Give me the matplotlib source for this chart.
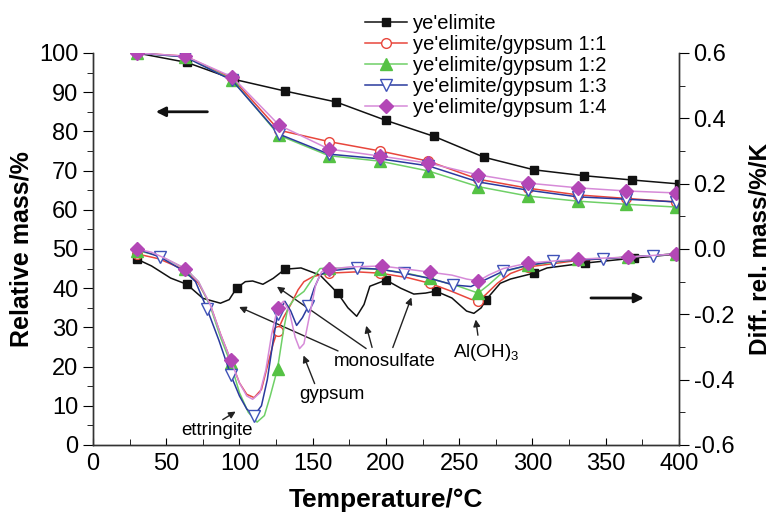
import numpy as np
import matplotlib
matplotlib.use("Agg")
import matplotlib.pyplot as plt
from matplotlib.ticker import MultipleLocator, FormatStrFormatter

plt.rcParams['font.family'] = ['Liberation Sans', 'DejaVu Sans']
plt.rcParams['mathtext.default'] = 'regular'

# --- data ----------------------------------------------------------------
names = ["ye'elimite", "ye'elimite/gypsum 1:1", "ye'elimite/gypsum 1:2",
         "ye'elimite/gypsum 1:3", "ye'elimite/gypsum 1:4"]

# relative mass (left axis)
tg_T_black = [30, 64, 96, 131, 166, 200, 233, 267, 301, 335, 368, 400]
tg_black = [100, 97.6, 93.3, 90.3, 87.5, 82.8, 78.7, 73.4, 70.2, 68.7, 67.6, 66.6]
tg_T_mix = [30, 63, 95, 127, 161, 196, 229, 263, 297, 331, 364, 398]
tg_red = [100, 99.2, 93.6, 80.3, 77.4, 75.0, 72.4, 67.8, 65.5, 63.8, 62.9, 62.0]
tg_green = [100, 99.0, 93.2, 79.0, 73.8, 72.4, 69.9, 65.9, 63.5, 62.2, 61.4, 60.7]
tg_blue = [100, 99.0, 93.0, 79.3, 74.2, 73.0, 71.2, 67.1, 65.0, 63.3, 62.7, 62.0]
tg_mag = [100, 99.2, 93.9, 81.6, 75.5, 73.7, 71.9, 68.9, 66.8, 65.6, 64.8, 64.3]

# differential relative mass (right axis)
dtg_T_black = [30, 40, 53, 64, 75, 87, 93, 98, 104, 109, 116, 123, 131, 142, 155,
               167, 174, 180, 185, 189, 200, 210, 219, 227, 234, 245, 255, 260,
               265, 268, 278, 285, 301, 310, 336, 369, 400]
dtg_black = [-0.031, -0.052, -0.089, -0.108, -0.151, -0.166, -0.155, -0.12, -0.10,
             -0.098, -0.108, -0.09, -0.062, -0.058, -0.08, -0.135, -0.18, -0.206,
             -0.17, -0.114, -0.095, -0.12, -0.138, -0.135, -0.129, -0.15, -0.19,
             -0.197, -0.18, -0.157, -0.105, -0.092, -0.074, -0.058, -0.043,
             -0.028, -0.015]
mk_black = [30, 64, 98, 131, 167, 200, 234, 268, 301, 336, 369]

dtg_T_red = [30, 45, 63, 72, 80, 87, 94, 100, 105, 110, 115, 119, 123, 126, 130,
             135, 140, 144, 150, 157, 161, 180, 196, 215, 230, 245, 258, 263, 268,
             276, 285, 297, 331, 365, 398]
dtg_red = [-0.015, -0.03, -0.065, -0.105, -0.17, -0.26, -0.34, -0.41, -0.445,
           -0.455, -0.43, -0.36, -0.29, -0.25, -0.21, -0.17, -0.125, -0.10, -0.085,
           -0.077, -0.074, -0.070, -0.074, -0.088, -0.105, -0.13, -0.154, -0.158,
           -0.14, -0.105, -0.075, -0.055, -0.035, -0.025, -0.015]
mk_red = [30, 63, 94, 126, 161, 196, 230, 263, 297, 331, 365, 398]

dtg_T_green = [30, 45, 63, 72, 80, 87, 94, 100, 106, 112, 117, 121, 126, 130, 133,
               138, 144, 150, 155, 161, 196, 215, 230, 250, 263, 270, 280, 297,
               331, 365, 398]
dtg_green = [-0.005, -0.02, -0.06, -0.10, -0.175, -0.27, -0.35, -0.44, -0.50,
             -0.53, -0.51, -0.45, -0.366, -0.25, -0.18, -0.15, -0.13, -0.09, -0.06,
             -0.058, -0.062, -0.075, -0.09, -0.115, -0.135, -0.11, -0.07, -0.05,
             -0.032, -0.025, -0.015]
mk_green = [30, 63, 94, 126, 161, 196, 230, 263, 297, 331, 365, 398]

dtg_T_blue = [30, 46, 63, 70, 78, 86, 94, 100, 105, 110, 115, 119, 123, 126, 131,
              135, 139, 143, 147, 151, 155, 160, 180, 196, 212, 230, 246, 258, 265,
              280, 297, 314, 348, 382, 398]
dtg_blue = [0.0, -0.025, -0.07, -0.10, -0.185, -0.28, -0.385, -0.45, -0.49, -0.51,
            -0.48, -0.40, -0.28, -0.20, -0.16, -0.19, -0.234, -0.21, -0.175, -0.12,
            -0.08, -0.068, -0.058, -0.062, -0.074, -0.09, -0.11, -0.115, -0.10,
            -0.068, -0.05, -0.038, -0.03, -0.02, -0.015]
mk_blue = [46, 78, 94, 110, 126, 147, 180, 212, 246, 280, 314, 348, 382]

dtg_T_mag = [30, 40, 50, 63, 72, 80, 87, 94, 100, 105, 109, 114, 118, 122, 126,
             130, 134, 138, 141, 144, 148, 152, 156, 161, 175, 197, 215, 230, 245,
             255, 263, 270, 280, 297, 331, 365, 398]
dtg_mag = [0.0, -0.01, -0.03, -0.06, -0.10, -0.17, -0.26, -0.34, -0.41, -0.45,
           -0.46, -0.44, -0.37, -0.26, -0.18, -0.16, -0.19, -0.27, -0.305, -0.29,
           -0.2, -0.11, -0.07, -0.062, -0.055, -0.052, -0.062, -0.071, -0.08,
           -0.092, -0.098, -0.08, -0.06, -0.043, -0.031, -0.025, -0.015]
mk_mag = [30, 63, 94, 126, 161, 197, 230, 263, 297, 331, 365, 398]

# --- styles -------------------------------------------------------------
styles = [
    dict(color='#111111', marker='s', ms=6, mfc='#111111', mec='#111111'),
    dict(color='#e8463c', marker='o', ms=7, mfc='white', mec='#e8463c'),
    dict(color='#6fd067', marker='^', ms=8, mfc='#55c244', mec='#55c244'),
    dict(color='#2a3a9e', marker='v', ms=8, mfc='white', mec='#3f52b8'),
    dict(color='#d68ad8', marker='D', ms=7.5, mfc='#b347b6', mec='#b347b6'),
]

fig = plt.figure(figsize=(7.76, 5.17), dpi=100)
ax = fig.add_axes([0.1198, 0.1393, 0.7552, 0.7582])
ax2 = ax.twinx()

tg_sets = [(tg_T_black, tg_black), (tg_T_mix, tg_red), (tg_T_mix, tg_green),
           (tg_T_mix, tg_blue), (tg_T_mix, tg_mag)]
dtg_sets = [(dtg_T_black, dtg_black, mk_black), (dtg_T_red, dtg_red, mk_red),
            (dtg_T_green, dtg_green, mk_green), (dtg_T_blue, dtg_blue, mk_blue),
            (dtg_T_mag, dtg_mag, mk_mag)]

handles = []
for (tx, ty), (dx, dy, mk), name, st in zip(tg_sets, dtg_sets, names, styles):
    h, = ax.plot(tx, ty, lw=1.1, label=name, **st)
    handles.append(h)
    idx = [i for i, t in enumerate(dx) if t in mk]
    ax2.plot(dx, dy, lw=1.1, markevery=idx, **st)

ax.set_xlim(0, 400)
ax.set_ylim(0, 100)
ax2.set_ylim(-0.6, 0.6)

ax.xaxis.set_major_locator(MultipleLocator(50))
ax.xaxis.set_minor_locator(MultipleLocator(25))
ax.yaxis.set_major_locator(MultipleLocator(10))
ax.yaxis.set_minor_locator(MultipleLocator(5))
ax2.yaxis.set_major_locator(MultipleLocator(0.2))
ax2.yaxis.set_minor_locator(MultipleLocator(0.1))
ax2.yaxis.set_major_formatter(FormatStrFormatter('%.1f'))

ax.tick_params(axis='x', which='both', direction='in', labelsize=17, pad=6)
ax.tick_params(axis='x', which='major', length=5)
ax.tick_params(axis='x', which='minor', length=4)
ax.tick_params(axis='y', which='major', direction='out', length=7, labelsize=17)
ax.tick_params(axis='y', which='minor', direction='out', length=4)
ax2.tick_params(axis='y', which='major', direction='out', length=7, labelsize=17)
ax2.tick_params(axis='y', which='minor', direction='out', length=4)

for a in (ax, ax2):
    a.spines['top'].set_visible(False)
    for s in ('left', 'right', 'bottom'):
        a.spines[s].set_color('#333333')
        a.spines[s].set_linewidth(1.0)

ax.set_xlabel('Temperature/°C', fontsize=19, fontweight='bold', labelpad=9)
ax.set_ylabel('Relative mass/%', fontsize=18, fontweight='bold', labelpad=4)
ax2.set_ylabel('Diff. rel. mass/%/K', fontsize=17.5, fontweight='bold', labelpad=11)

leg = fig.legend(handles=handles, loc='upper left', bbox_to_anchor=(0.452, 1.0),
                 frameon=False, fontsize=14.5, labelspacing=0.1,
                 handlelength=2.1, handletextpad=0.3, borderaxespad=0.3)

# --- annotations --------------------------------------------------------
thin = dict(arrowstyle='-|>', color='#222222', lw=1.0, mutation_scale=10)
thick = dict(arrowstyle='-|>', color='#111111', lw=2.0, mutation_scale=14)
ax.annotate('', xy=(41, 85), xytext=(80, 85), arrowprops=thick)
ax.annotate('', xy=(378, 37.5), xytext=(338, 37.5), arrowprops=thick)

fs = 13.5
ax.text(85, 3.8, 'ettringite', fontsize=fs, ha='center', va='center')
ax.annotate('', xy=(99, 8.9), xytext=(87, 6.1), arrowprops=thin)
ax.text(163, 12.8, 'gypsum', fontsize=fs, ha='center', va='center')
ax.annotate('', xy=(143, 23.5), xytext=(152, 15), arrowprops=thin)
ax.text(199, 21.2, 'monosulfate', fontsize=fs, ha='center', va='center')
ax.annotate('', xy=(98, 35.5), xytext=(169, 23.7), arrowprops=thin)
ax.annotate('', xy=(124, 40.8), xytext=(188, 24.2), arrowprops=thin)
ax.annotate('', xy=(186, 31.1), xytext=(191, 24.2), arrowprops=thin)
ax.annotate('', xy=(218, 38.3), xytext=(204, 24.2), arrowprops=thin)
ax.text(268, 23.7, 'Al(OH)$_3$', fontsize=fs, ha='center', va='center')
ax.annotate('', xy=(261, 32.7), xytext=(263, 27.3), arrowprops=thin)

fig.savefig('out.png', dpi=100)
